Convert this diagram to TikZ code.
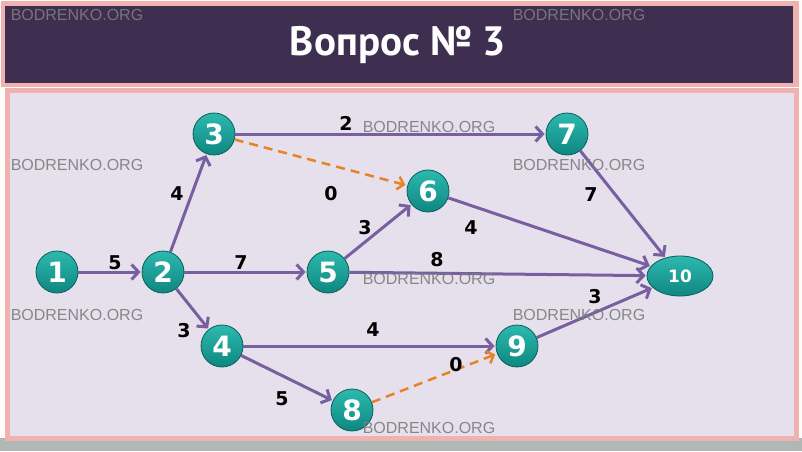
\documentclass[tikz,border=0pt]{standalone}
\usepackage{fontspec}
\setmainfont{DejaVu Sans}
\newfontfamily\titlefont{PT Sans}
\newfontfamily\wmfont{Liberation Sans}
\usetikzlibrary{arrows.meta,shapes.geometric}
\definecolor{pinkc}{RGB}{240,178,176}
\definecolor{titlebg}{RGB}{62,46,80}
\definecolor{panelbg}{RGB}{230,224,236}
\definecolor{tealA}{RGB}{45,185,175}
\definecolor{tealB}{RGB}{14,135,128}
\definecolor{tealD}{RGB}{8,95,90}
\definecolor{edgec}{RGB}{120,96,160}
\definecolor{orangec}{RGB}{232,130,42}
\definecolor{wmc}{RGB}{125,125,125}
\definecolor{shadowc}{RGB}{175,184,180}
\tikzset{
  ev/.style={circle,minimum size=42pt,inner sep=0pt,top color=tealA,bottom color=tealB,
    draw=tealD,line width=0.8pt,text=white,font=\bfseries\fontsize{28}{28}\selectfont},
  evend/.style={ellipse,minimum width=66pt,minimum height=40pt,inner sep=0pt,top color=tealA,bottom color=tealB,
    draw=tealD,line width=0.8pt,text=white,font=\bfseries\fontsize{17}{17}\selectfont},
  work/.style={draw=edgec,line width=3pt,-{Straight Barb[length=7pt,width=15pt]},shorten >=1pt},
  dummy/.style={draw=orangec,line width=2.5pt,dash pattern=on 9pt off 6pt,-{Straight Barb[length=6pt,width=13pt]},shorten >=2pt},
  lbl/.style={font=\bfseries\fontsize{19}{19}\selectfont,text=black,inner sep=0pt},
  wm/.style={font=\wmfont\fontsize{16}{16}\selectfont,text=wmc,inner sep=0pt,opacity=0.9}
}
\begin{document}
\begin{tikzpicture}[x=1pt,y=-1pt]
\useasboundingbox (0,0) rectangle (802,451);
\fill[white!95!pinkc] (0,0) rectangle (802,451);
\fill[shadowc] (0,438) rectangle (802,451);
% title
\fill[pinkc] (1,1) rectangle (799,87);
\fill[titlebg] (5,6) rectangle (793,83);
\node[text=white,font=\titlefont\bfseries\fontsize{41}{41}\selectfont] (title) at (398,45) {Вопрос № 3};
% panel
\fill[pinkc] (5,88) rectangle (799,441);
\fill[panelbg] (10,93) rectangle (794,436);
% events
\node[ev] (n1) at (57,272) {1};
\node[ev] (n2) at (163,272) {2};
\node[ev] (n3) at (214,134) {3};
\node[ev] (n4) at (222,346) {4};
\node[ev] (n5) at (328,272) {5};
\node[ev] (n6) at (428,191) {6};
\node[ev] (n7) at (567,134) {7};
\node[ev] (n8) at (352,410) {8};
\node[ev] (n9) at (517,346) {9};
\node[evend] (n10) at (680,276) {10};
% works
\draw[work] (n1) -- (n2);
\draw[work] (n2) -- (n3);
\draw[work] (n2) -- (n5);
\draw[work] (n2) -- (n4);
\draw[work] (n3) -- (n7);
\draw[dummy] (n3) -- (n6);
\draw[work] (n5) -- (n6);
\draw[work] (n5) -- (n10);
\draw[work] (n6) -- (n10);
\draw[work] (n7) -- (n10);
\draw[work] (n4) -- (n9);
\draw[work] (n4) -- (n8);
\draw[dummy] (n8) -- (n9);
\draw[work] (n9) -- (n10);
% labels
\node[lbl] (l12) at (115,263) {5};
\node[lbl] (l23) at (177,194) {4};
\node[lbl] (l25) at (241,263) {7};
\node[lbl] (l24) at (184,331) {3};
\node[lbl] (l37) at (346,123) {2};
\node[lbl] (l36) at (331,194) {0};
\node[lbl] (l56) at (365,228) {3};
\node[lbl] (l510) at (437,260) {8};
\node[lbl] (l610) at (471,228) {4};
\node[lbl] (l710) at (591,195) {7};
\node[lbl] (l910) at (595,297) {3};
\node[lbl] (l49) at (373,330) {4};
\node[lbl] (l89) at (456,365) {0};
\node[lbl] (l48) at (282,399) {5};
% watermarks
\node[wm] (w1) at (77,15) {BODRENKO.ORG};
\node[wm] (w2) at (579,15) {BODRENKO.ORG};
\node[wm] (w3) at (77,165) {BODRENKO.ORG};
\node[wm] (w4) at (579,165) {BODRENKO.ORG};
\node[wm] (w5) at (429,127) {BODRENKO.ORG};
\node[wm] (w6) at (429,279) {BODRENKO.ORG};
\node[wm] (w7) at (77,315) {BODRENKO.ORG};
\node[wm] (w8) at (579,315) {BODRENKO.ORG};
\node[wm] (w9) at (429,428) {BODRENKO.ORG};
\end{tikzpicture}
\end{document}
